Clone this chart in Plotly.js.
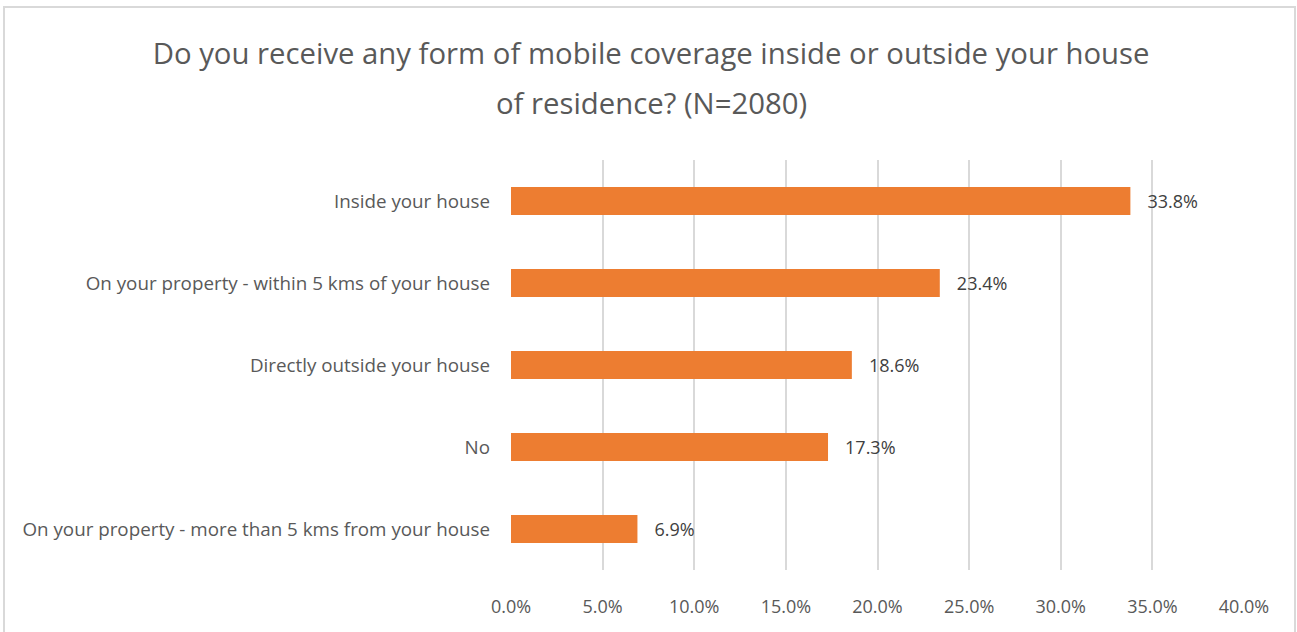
<!DOCTYPE html>
<html><head><meta charset="utf-8">
<script src="https://cdn.plot.ly/plotly-3.0.1.min.js"></script>
<style>
html,body{margin:0;padding:0;background:#fff;}
#wrap{position:relative;width:1297px;height:632px;}
#chart{width:1297px;height:632px;}
#frame{position:absolute;left:3px;top:6px;width:1293px;height:630px;border:2px solid #d9d9d9;pointer-events:none;box-sizing:border-box;}
</style></head>
<body>
<div id="wrap"><div id="chart"></div><div id="frame"></div></div>
<script>
const categories = [
  "Inside your house",
  "On your property - within 5 kms of your house",
  "Directly outside your house",
  "No",
  "On your property - more than 5 kms from your house"
];
const values = [33.8, 23.4, 18.6, 17.3, 6.9];
const tickVals = [0, 5, 10, 15, 20, 25, 30, 35, 40];
const tickText = ["0.0%", "5.0%", "10.0%", "15.0%", "20.0%", "25.0%", "30.0%", "35.0%", "40.0%"];
const titleLine1 = "Do you receive any form of mobile coverage inside or outside your house";
const titleLine2 = "of residence? (N=2080)";

const FONT = "'Open Sans', sans-serif";
const trace = {
  type: "bar",
  orientation: "h",
  y: categories,
  x: values,
  text: values.map(v => "   " + v.toFixed(1) + "%"),
  textposition: "outside",
  cliponaxis: false,
  textfont: {family: FONT, size: 18, color: "#404040"},
  marker: {color: "#ED7D31"},
  width: 0.34,
  hoverinfo: "none"
};
const layout = {
  width: 1297, height: 632,
  margin: {l: 511, r: 53, t: 160, b: 62},
  paper_bgcolor: "#fff", plot_bgcolor: "#fff",
  showlegend: false,
  title: {text: titleLine1, font: {family: FONT, size: 29.3, color: "#595959"},
          x: 0.502, xanchor: "center", xref: "container", yref: "container", y: 1 - 54/632, yanchor: "middle"},
  annotations: [{
    text: titleLine2, xref: "paper", yref: "paper", x: (651 - 511) / 733, y: 1 + (160 - 103) / 410,
    xanchor: "center", yanchor: "middle", showarrow: false,
    font: {family: FONT, size: 29.3, color: "#595959"}
  }],
  xaxis: {range: [0, 40], tickvals: tickVals, ticktext: tickText, showgrid: true, gridcolor: "#d9d9d9", gridwidth: 2,
          zeroline: false, showline: false, ticks: "", ticklabelstandoff: 24,
          tickfont: {family: FONT, size: 18, color: "#595959"}, fixedrange: true},
  yaxis: {autorange: "reversed", showgrid: false, zeroline: false, showline: false, ticks: "", ticklabelstandoff: 20,
          tickfont: {family: FONT, size: 18.8, color: "#595959"}, fixedrange: true}
};
Plotly.newPlot("chart", [trace], layout, {staticPlot: true});
</script>
</body></html>
